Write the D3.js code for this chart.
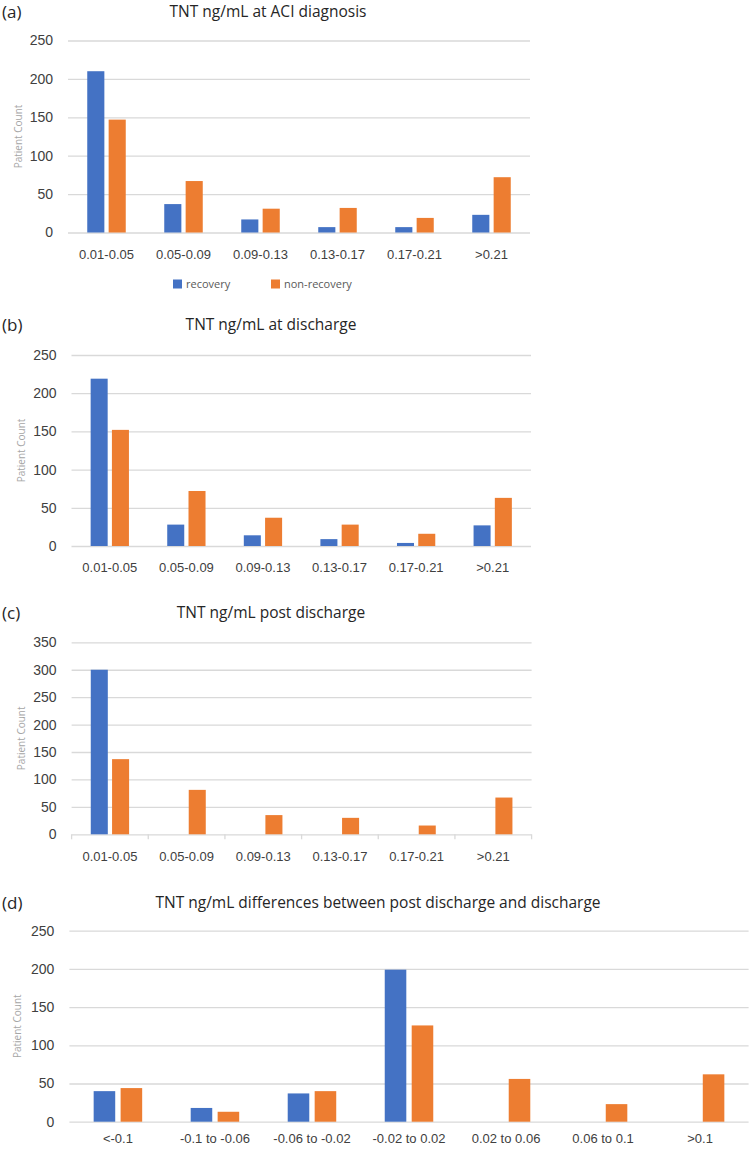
<!DOCTYPE html>
<html>
<head>
<meta charset="utf-8">
<script src="https://cdn.jsdelivr.net/npm/d3@7"></script>
<style>
  html, body { margin: 0; padding: 0; background: #fff; }
  svg { display: block; font-family: "Open Sans", "Noto Sans", sans-serif; }
</style>
</head>
<body>
<svg id="chart" width="750" height="1149"></svg>
<script>
// ---- data ----
const seriesNames = ["recovery", "non-recovery"];
const seriesColors = ["#4472C4", "#ED7D31"];

const troponinBins = ["0.01-0.05", "0.05-0.09", "0.09-0.13", "0.13-0.17", "0.17-0.21", ">0.21"];
const differenceBins = ["<-0.1", "-0.1 to -0.06", "-0.06 to -0.02", "-0.02 to 0.02", "0.02 to 0.06", "0.06 to 0.1", ">0.1"];

const diagnosisRecovery = [210, 37, 17, 7, 7, 23];
const diagnosisNonRecovery = [147, 67, 31, 32, 19, 72];

const dischargeRecovery = [219, 28, 14, 9, 4, 27];
const dischargeNonRecovery = [152, 72, 37, 28, 16, 63];

const postDischargeRecovery = [300, 0, 0, 0, 0, 0];
const postDischargeNonRecovery = [137, 81, 35, 30, 16, 67];

const differenceRecovery = [40, 18, 37, 199, 0, 0, 0];
const differenceNonRecovery = [44, 13, 40, 126, 56, 23, 62];

const ticks250 = [0, 50, 100, 150, 200, 250];
const ticks350 = [0, 50, 100, 150, 200, 250, 300, 350];

const panelLetters = ["(a)", "(b)", "(c)", "(d)"];
const panelTitles = [
  "TNT ng/mL at ACI diagnosis",
  "TNT ng/mL at discharge",
  "TNT ng/mL post discharge",
  "TNT ng/mL differences between post discharge and discharge"
];
const yAxisTitle = "Patient Count";

// ---- layout ----
const panels = [
  { letter: panelLetters[0], title: panelTitles[0], cats: troponinBins, rec: diagnosisRecovery, non: diagnosisNonRecovery,
    ticks: ticks250, left: 68, right: 530, bottom: 232.5, top: 40.5, titleX: 268, titleY: 12, yTitleX: 18, xTicks: false, xPad: 17 },
  { letter: panelLetters[1], title: panelTitles[1], cats: troponinBins, rec: dischargeRecovery, non: dischargeNonRecovery,
    ticks: ticks250, left: 71.5, right: 531, bottom: 546, top: 355, titleX: 271, titleY: 325, yTitleX: 21, xTicks: false, xPad: 17 },
  { letter: panelLetters[2], title: panelTitles[2], cats: troponinBins, rec: postDischargeRecovery, non: postDischargeNonRecovery,
    ticks: ticks350, left: 71.6, right: 531.6, bottom: 834.3, top: 642.3, titleX: 271, titleY: 613, yTitleX: 21, xTicks: true, xPad: 17 },
  { letter: panelLetters[3], title: panelTitles[3], cats: differenceBins, rec: differenceRecovery, non: differenceNonRecovery,
    ticks: ticks250, left: 69.4, right: 748.6, bottom: 1121.7, top: 930.7, titleX: 378, titleY: 903, yTitleX: 17, xTicks: false, xPad: 12 }
];

const svg = d3.select("#chart");

panels.forEach(p => {
  const g = svg.append("g");
  const x0 = d3.scaleBand().domain(p.cats).range([p.left, p.right]).paddingInner(0.5).paddingOuter(0.25);
  const x1 = d3.scaleBand().domain(seriesNames).range([0, x0.bandwidth()]).paddingInner(0.2);
  const y = d3.scaleLinear().domain([0, d3.max(p.ticks)]).range([p.bottom, p.top]);

  // gridlines + y labels
  const yAxis = g.append("g")
    .attr("transform", `translate(${p.left},0)`)
    .call(d3.axisLeft(y).tickValues(p.ticks).tickSize(-(p.right - p.left)).tickPadding(15).tickFormat(d3.format("d")));
  yAxis.select(".domain").remove();
  yAxis.selectAll(".tick line").attr("stroke", "#d9d9d9").attr("stroke-width", 1.3);
  yAxis.selectAll(".tick text").attr("fill", "#404040").attr("font-size", 14);

  // x labels
  const xAxis = g.append("g")
    .attr("transform", `translate(0,${p.bottom})`)
    .call(d3.axisBottom(x0).tickSize(0).tickPadding(p.xPad));
  xAxis.select(".domain").remove();
  xAxis.selectAll(".tick text").attr("fill", "#404040").attr("font-size", 13);

  if (p.xTicks) {
    const step = x0.step();
    const starts = d3.range(p.cats.length + 1).map(i => p.left + i * step);
    g.append("g").selectAll("line").data(starts).join("line")
      .attr("x1", d => d).attr("x2", d => d)
      .attr("y1", p.bottom).attr("y2", p.bottom + 5)
      .attr("stroke", "#d9d9d9").attr("stroke-width", 1.3);
  }

  // bars
  const rows = p.cats.map((c, i) => ({ cat: c, values: [p.rec[i], p.non[i]] }));
  const groups = g.append("g").selectAll("g").data(rows).join("g")
    .attr("transform", d => `translate(${x0(d.cat)},0)`);
  groups.selectAll("rect")
    .data(d => d.values.map((v, k) => ({ series: seriesNames[k], value: v, color: seriesColors[k] })))
    .join("rect")
    .filter(d => d.value > 0)
    .attr("x", d => x1(d.series))
    .attr("width", x1.bandwidth())
    .attr("y", d => y(d.value))
    .attr("height", d => y(0) - y(d.value))
    .attr("fill", d => d.color);

  // panel letter
  g.append("text").attr("x", 2).attr("y", p.titleY).attr("dy", "0.35em")
    .attr("font-size", 17).attr("fill", "#262626").text(p.letter);
  // title
  g.append("text").attr("x", p.titleX).attr("y", p.titleY).attr("dy", "0.35em")
    .attr("text-anchor", "middle").attr("font-size", 15.5).attr("fill", "#262626").text(p.title);
  // y axis title
  g.append("text")
    .attr("transform", `translate(${p.yTitleX},${(p.top + p.bottom) / 2}) rotate(-90)`)
    .attr("dy", "0.35em").attr("text-anchor", "middle")
    .attr("font-size", 10).attr("fill", "#a6a6a6").text(yAxisTitle);
});

// legend (under panel a)
const legendX = [173, 271];
const legend = svg.append("g").selectAll("g").data(seriesNames).join("g")
  .attr("transform", (d, i) => `translate(${legendX[i]},284)`);
legend.append("rect").attr("x", 0).attr("y", -4.5).attr("width", 9).attr("height", 9)
  .attr("fill", (d, i) => seriesColors[i]);
legend.append("text").attr("x", 13).attr("dy", "0.35em").attr("font-size", 11)
  .attr("fill", "#595959").text(d => d);
</script>
</body>
</html>
